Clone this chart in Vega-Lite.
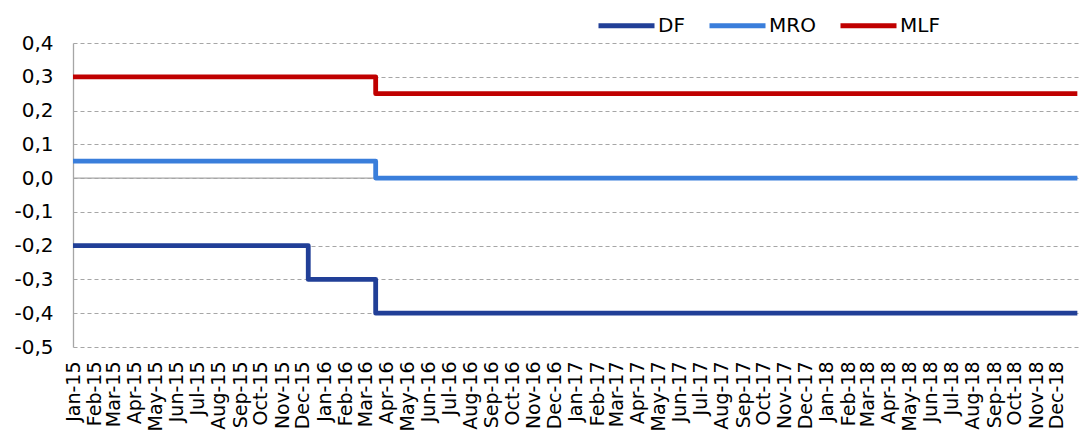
{
  "$schema": "https://vega.github.io/schema/vega-lite/v6.json",
  "autosize": "none",
  "width": 1005,
  "height": 304,
  "padding": {"left": 73, "top": 43, "right": 1, "bottom": 88},
  "config": {
    "locale": {"number": {"decimal": ",", "thousands": ".", "grouping": [3], "currency": ["", " €"], "minus": "-"}},
    "view": {"stroke": null},
    "font": "DejaVu Sans",
    "axisY": {
      "title": null, "labelFontSize": 20, "labelColor": "#000000", "labelPadding": 20,
      "domain": true, "domainColor": "#a6a6a6", "domainWidth": 1.3,
      "ticks": false, "grid": true, "gridColor": "#a6a6a6", "gridDash": [4, 3], "gridWidth": 1.2,
      "labelOverlap": false
    }
  },
  "datasets": {
    "rates": [
      {"date": "2015-01-01T00:00:00", "series": "DF", "rate": -0.2},
      {"date": "2015-12-09T00:00:00", "series": "DF", "rate": -0.3},
      {"date": "2016-03-16T00:00:00", "series": "DF", "rate": -0.4},
      {"date": "2018-12-31T00:00:00", "series": "DF", "rate": -0.4},
      {"date": "2015-01-01T00:00:00", "series": "MRO", "rate": 0.05},
      {"date": "2016-03-16T00:00:00", "series": "MRO", "rate": 0.0},
      {"date": "2018-12-31T00:00:00", "series": "MRO", "rate": 0.0},
      {"date": "2015-01-01T00:00:00", "series": "MLF", "rate": 0.3},
      {"date": "2016-03-16T00:00:00", "series": "MLF", "rate": 0.25},
      {"date": "2018-12-31T00:00:00", "series": "MLF", "rate": 0.25}
    ],
    "zero": [{"y": 0}]
  },
  "layer": [
    {
      "data": {"name": "zero"},
      "mark": {"type": "rule", "color": "#a6a6a6", "strokeWidth": 1.3},
      "encoding": {
        "y": {
          "field": "y", "type": "quantitative",
          "scale": {"domain": [-0.5, 0.4], "nice": false, "zero": false},
          "axis": {"format": ".1f", "values": [-0.5, -0.4, -0.3, -0.2, -0.1, 0, 0.1, 0.2, 0.3, 0.4]}
        }
      }
    },
    {
      "data": {"name": "rates"},
      "mark": {"type": "line", "interpolate": "step-after", "strokeWidth": 4.8, "strokeJoin": "round", "strokeCap": "butt"},
      "encoding": {
        "x": {
          "field": "date", "type": "temporal",
          "scale": {"domain": [{"year": 2015, "month": 1, "date": 1}, {"year": 2018, "month": 12, "date": 31, "hours": 23}]},
          "axis": {
            "title": null, "format": "%b-%y",
            "tickCount": {"interval": "month", "step": 1},
            "labelAngle": 270, "labelFontSize": 19, "labelColor": "#000000", "labelPadding": 14,
            "labelOverlap": false, "labelFlush": false, "labelBound": false,
            "domain": false, "ticks": false, "grid": false
          }
        },
        "y": {
          "field": "rate", "type": "quantitative",
          "scale": {"domain": [-0.5, 0.4], "nice": false, "zero": false},
          "axis": {"format": ".1f", "values": [-0.5, -0.4, -0.3, -0.2, -0.1, 0, 0.1, 0.2, 0.3, 0.4]}
        },
        "color": {
          "field": "series", "type": "nominal",
          "scale": {"domain": ["DF", "MRO", "MLF"], "range": ["#213F97", "#3A7EDB", "#C00000"]},
          "legend": {
            "title": null, "orient": "none", "direction": "horizontal", "legendX": 523, "legendY": -48,
            "symbolType": "stroke", "symbolSize": 3136, "symbolStrokeWidth": 5,
            "labelFontSize": 20, "labelColor": "#000000", "labelOffset": 1, "columnPadding": 14
          }
        }
      }
    }
  ]
}
